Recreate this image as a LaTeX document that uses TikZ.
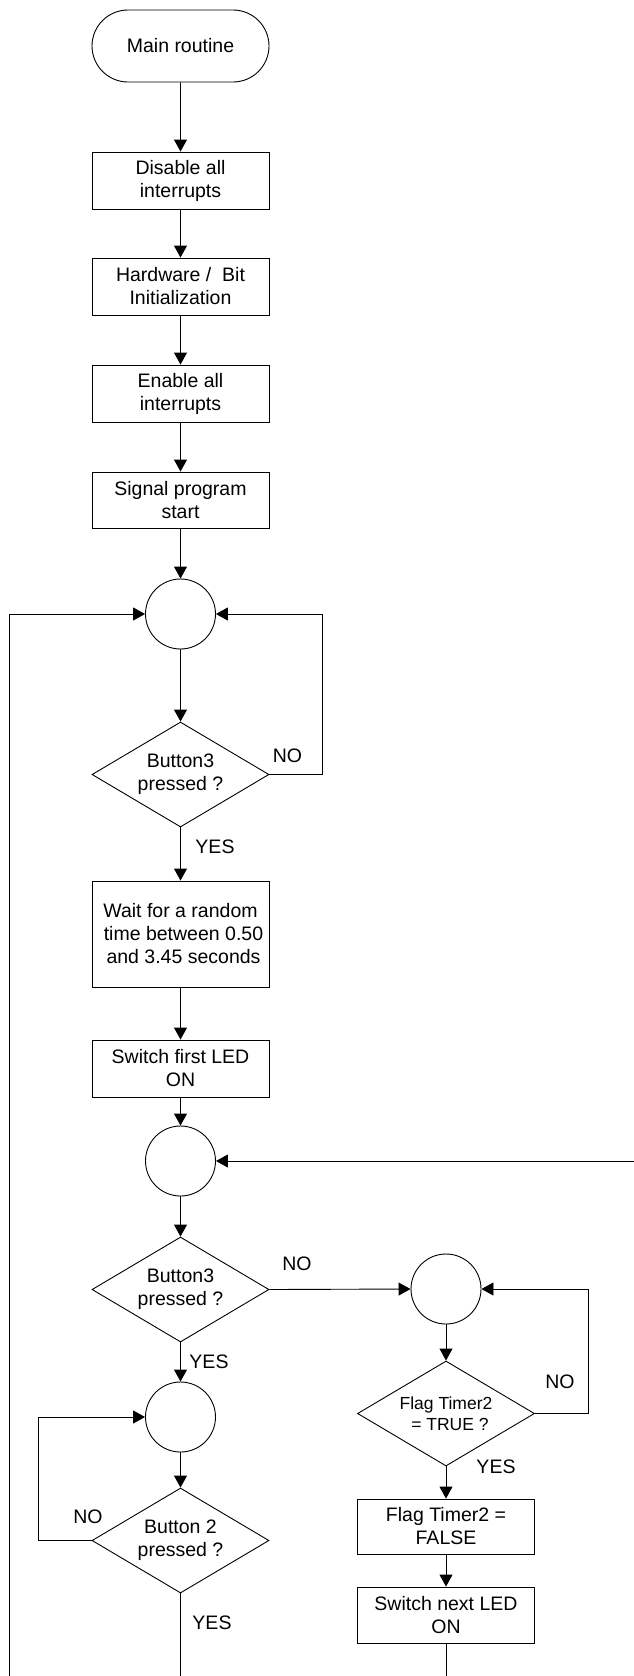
\documentclass[tikz,border=0pt]{standalone}
\usepackage{fontspec}
\setmainfont{Liberation Sans}
\usetikzlibrary{shapes.geometric,shapes.misc,arrows.meta}
\begin{document}
\begin{tikzpicture}[x=1pt,y=-1pt,
  line width=0.9pt,
  every node/.style={font=\fontsize{19.5}{23}\selectfont},
  arr/.style={-{Triangle[length=12pt,width=13pt]}},
  plain/.style={-},
  procbox/.style={draw,rectangle,minimum width=177pt,inner sep=0pt,align=center},
  termbox/.style={draw,rounded rectangle,minimum width=177pt,minimum height=72pt,inner sep=0pt},
  joint/.style={draw,circle,minimum size=70pt,inner sep=0pt},
  decide/.style={draw,diamond,shape aspect=1.686,minimum width=177pt,minimum height=105pt,inner sep=0pt,align=center},
  lbl/.style={inner sep=0pt}
]
\useasboundingbox (0,0) rectangle (634,1676);

% main column
\node[termbox] (start) at (180.5,46) {Main routine};
\node[procbox,minimum height=57pt] (b1) at (180.5,180.5) {Disable all\\interrupts};
\node[procbox,minimum height=57pt] (b2) at (180.5,286.5) {Hardware / \ Bit\\Initialization};
\node[procbox,minimum height=57pt] (b3) at (180.5,393.5) {Enable all\\interrupts};
\node[procbox,minimum height=56pt] (b4) at (180.5,500) {Signal program\\start};
\node[joint] (c1) at (180.5,614) {};
\node[decide] (d1) at (180.5,774.5) {Button3\\pressed ?};
\node[procbox,minimum height=106pt] (b5) at (180.5,934) {Wait for a random\\\hspace*{6pt}time between 0.50\\\hspace*{6pt}and 3.45 seconds};
\node[procbox,minimum height=57pt] (b6) at (180.5,1068.5) {Switch first LED\\ON};
\node[joint] (c2) at (180.5,1161) {};
\node[decide] (d2) at (180.5,1289.5) {Button3\\pressed ?};
\node[joint] (c4) at (180.5,1417) {};
\node[decide] (d4) at (180.5,1540.5) {Button 2\\pressed ?};

% right column
\node[joint] (c3) at (446,1289) {};
\node[decide,font=\fontsize{17.5}{21}\selectfont] (d3) at (446,1413.5) {Flag Timer2\\\hspace*{8pt}= TRUE ?};
\node[procbox,minimum height=55pt] (b7) at (446,1526.5) {Flag Timer2 =\\FALSE};
\node[procbox,minimum height=56pt] (b8) at (446,1615) {Switch next LED\\ON};

% helper coordinates
\coordinate (r1) at (322,614);
\coordinate (r3) at (588,1289);
\coordinate (l4) at (38,1417);
\coordinate (lt) at (9,614);
\coordinate (lb) at (9,1676);
\coordinate (re) at (634,1161);
\coordinate (bl) at (180.5,1676);
\coordinate (br) at (446,1676);

% connectors
\draw[arr] (start) -- (b1);
\draw[arr] (b1) -- (b2);
\draw[arr] (b2) -- (b3);
\draw[arr] (b3) -- (b4);
\draw[arr] (b4) -- (c1);
\draw[arr] (c1) -- (d1);
\draw[arr] (d1) -- (b5);
\draw[arr] (b5) -- (b6);
\draw[arr] (b6) -- (c2);
\draw[arr] (c2) -- (d2);
\draw[arr] (d2) -- (c4);
\draw[arr] (c4) -- (d4);
\draw[arr] (d2.east) -- (c3.west);
\draw[arr] (c3) -- (d3);
\draw[arr] (d3) -- (b7);
\draw[arr] (b7) -- (b8);
\draw[arr] (d1.east) -| (r1) -- (c1.east);
\draw[arr] (d3.east) -| (r3) -- (c3.east);
\draw[arr] (d4.west) -| (l4) -- (c4.west);
\draw[arr] (lb) -- (lt) -- (c1.west);
\draw[arr] (re) -- (c2.east);
\draw[plain] (d4.south) -- (bl);
\draw[plain] (b8.south) -- (br);

% labels
\node[lbl] (n1) at (287.5,756) {NO};
\node[lbl] (y1) at (215,846.5) {YES};
\node[lbl] (n2) at (297,1264) {NO};
\node[lbl] (y2) at (209,1362) {YES};
\node[lbl] (n3) at (560,1382) {NO};
\node[lbl] (y3) at (496,1467) {YES};
\node[lbl] (n4) at (88,1517) {NO};
\node[lbl] (y4) at (212,1623) {YES};
\end{tikzpicture}
\end{document}
